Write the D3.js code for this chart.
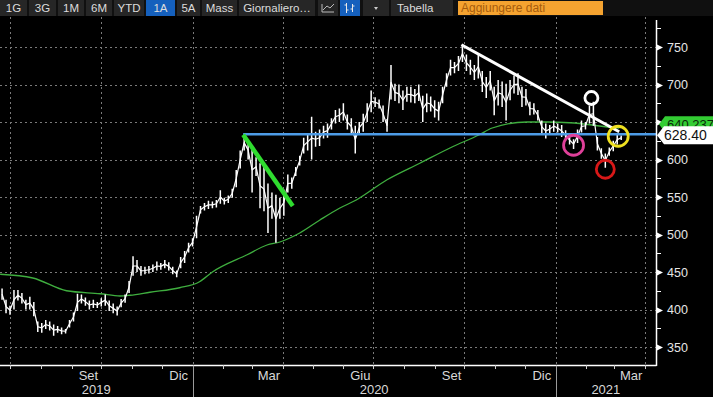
<!DOCTYPE html>
<html><head><meta charset="utf-8">
<script src="https://cdn.jsdelivr.net/npm/d3@7"></script>
<style>
html,body{margin:0;padding:0;background:#000;overflow:hidden}
svg{display:block}
text{font-family:"Liberation Sans",Arial,sans-serif}
</style></head><body>
<svg id="c" width="713" height="397"></svg>
<script>
// ---------- data ----------
const startDate = "2019-06-23";
const stepDays = 4;
const highs = [428,413,405,426,426,422,413,417,410,384,
382,386,384,380,378,376,374,386,396,421,
420,416,412,413,410,415,420,412,408,404,
414,420,438,471,466,458,457,458,460,464,
462,466,463,457,452,470,478,489,495,525,
538,542,545,544,546,559,549,552,561,586,
612,633,625,616,603,595,590,568,556,553,
549,560,580,576,590,605,629,635,657,637,
640,645,648,655,666,668,675,660,655,645,
650,661,675,692,683,680,672,654,726,701,
700,692,697,697,694,700,685,688,684,679,
677,697,715,733,730,738,753,740,733,726,
740,718,710,718,697,706,704,701,706,712,
715,697,694,677,675,666,652,648,646,652,
648,646,639,632,627,640,652,650,672,677,
630,615,608,616,625,633,632];
const lows = [413,395,393,400,412,408,400,400,391,370,
369,374,372,365,369,367,368,376,384,398,
408,405,400,402,402,404,405,398,395,392,
403,409,422,445,450,445,447,448,450,452,
453,455,452,447,443,455,462,476,484,495,
528,532,534,535,536,541,540,542,549,563,
588,612,600,556,578,535,531,502,521,489,
521,525,556,561,578,592,608,612,600,617,
618,628,629,640,648,650,652,640,633,608,
635,637,650,663,670,668,650,637,680,678,
675,666,677,676,675,678,650,663,664,656,
652,675,697,712,715,718,730,718,713,706,
708,690,682,692,659,672,670,652,679,688,
686,670,672,659,660,652,635,628,635,637,
636,630,626,620,614,622,636,640,648,645,
612,601,589,605,611,620,626];
const maDates = ["2019-06-21","2019-07-24","2019-08-27","2019-09-30","2019-10-20","2019-10-30","2019-11-19","2019-12-19","2020-01-08","2020-01-21","2020-02-25","2020-03-16","2020-03-29","2020-04-18","2020-05-08","2020-05-28","2020-06-14","2020-07-15","2020-08-17","2020-09-19","2020-10-16","2020-10-29","2020-12-03","2020-12-23","2021-01-15","2021-02-07","2021-02-24","2021-03-06"];
const maValues = [447,442,425,421,418,419,423,429,437,450,473,486,490,502,519,535,546,573,595,617,633,642,650,650,649,646,643,642];
const yTicks = [350,400,450,500,550,600,650,700,750];
const monthLabelDates = ["2019-09-18","2019-12-18","2020-03-18","2020-06-18","2020-09-18","2020-12-18","2021-03-18"];
const monthLabels = ["Set","Dic","Mar","Giu","Set","Dic","Mar"];
const yearLabels = ["2019","2020","2021"];
const lastPrice = 628.40;
const maLast = 640.237;
const resistanceStart = "2020-02-21";
const resistanceLevel = 633.6;
const greenTrendDates = ["2020-02-21","2020-04-11"];
const greenTrendValues = [633,538];
const whiteTrendDates = ["2020-09-28","2021-03-06"];
const whiteTrendValues = [753,637];
const circleDates = ["2021-02-06","2021-01-19","2021-02-20","2021-03-05"];
const circleValues = [682,619,587,631];
const circleColors = ["#ffffff","#e0409a","#d81818","#eee020"];
const circleRadii = [6.5,10,9,10];
const toolbarLabels = ["1G","3G","1M","6M","YTD","1A","5A","Mass","Giornaliero…"];
const addDataLabel = "Aggiungere dati";
const tableLabel = "Tabella";

// ---------- layout ----------
const W = 713, H = 397;
const plotL = 0, plotR = 656, plotT = 17, plotB = 365;
const parse = d3.utcParse("%Y-%m-%d");
const svg = d3.select("#c");

const x = d3.scaleUtc()
  .domain([Date.UTC(2019,6,1), Date.UTC(2021,3,1)])
  .range([10, 645]);
const y = d3.scaleLinear().domain([350,750]).range([347,47]);

svg.append("rect").attr("width",W).attr("height",H).attr("fill","#000");

// grid
const gridQ = d3.utcMonth.every(3).range(new Date(Date.UTC(2019,5,20)), new Date(Date.UTC(2021,3,12)));
svg.append("g").selectAll("line").data(gridQ).join("line")
  .attr("x1",d=>Math.round(x(d))+0.5).attr("x2",d=>Math.round(x(d))+0.5)
  .attr("y1",plotT).attr("y2",plotB)
  .attr("stroke","#7a7a7a").attr("stroke-width",1).attr("stroke-dasharray","2,3");
svg.append("g").selectAll("line").data(yTicks).join("line")
  .attr("x1",plotL).attr("x2",plotR)
  .attr("y1",d=>Math.round(y(d))+0.5).attr("y2",d=>Math.round(y(d))+0.5)
  .attr("stroke","#7a7a7a").attr("stroke-width",1).attr("stroke-dasharray","2,3");

// clip
svg.append("clipPath").attr("id","clip").append("rect")
  .attr("x",plotL).attr("y",plotT).attr("width",plotR-plotL).attr("height",plotB-plotT);
const g = svg.append("g").attr("clip-path","url(#clip)");

// moving average
const ma = maDates.map((d,i)=>({d:parse(d),v:maValues[i]}));
g.append("path").datum(ma)
  .attr("d", d3.line().x(p=>x(p.d)).y(p=>y(p.v)).curve(d3.curveMonotoneX))
  .attr("fill","none").attr("stroke","#3fae3f").attr("stroke-width",1.3);

// price bars: vertical high-low strokes joined through their mid points
const start = parse(startDate);
const n = Math.min(highs.length, lows.length);
const bars = d3.range(n).map(i=>({d:d3.utcDay.offset(start, i*stepDays), h:highs[i], l:lows[i]}));
g.append("path").datum(bars)
  .attr("d", d3.line().x(b=>x(b.d)).y(b=>y((b.h+b.l)/2)))
  .attr("fill","none").attr("stroke","#ffffff").attr("stroke-width",1.2).attr("stroke-linejoin","round");
g.append("g").selectAll("line").data(bars).join("line")
  .attr("x1",b=>x(b.d)).attr("x2",b=>x(b.d))
  .attr("y1",b=>y(b.h)).attr("y2",b=>y(b.l))
  .attr("stroke","#fff").attr("stroke-width",1.5);

// blue resistance line
g.append("line")
  .attr("x1",x(parse(resistanceStart))).attr("x2",plotR)
  .attr("y1",y(resistanceLevel)).attr("y2",y(resistanceLevel))
  .attr("stroke","#4d9be6").attr("stroke-width",2.5);

// green trend
g.append("line")
  .attr("x1",x(parse(greenTrendDates[0]))).attr("y1",y(greenTrendValues[0]))
  .attr("x2",x(parse(greenTrendDates[1]))).attr("y2",y(greenTrendValues[1]))
  .attr("stroke","#2fdc2f").attr("stroke-width",4.5);

// white trend
g.append("line")
  .attr("x1",x(parse(whiteTrendDates[0]))).attr("y1",y(whiteTrendValues[0]))
  .attr("x2",x(parse(whiteTrendDates[1]))).attr("y2",y(whiteTrendValues[1]))
  .attr("stroke","#ffffff").attr("stroke-width",3);

// circles
g.append("g").selectAll("circle").data(circleDates).join("circle")
  .attr("cx",(d)=>x(parse(d))).attr("cy",(d,i)=>y(circleValues[i]))
  .attr("r",(d,i)=>circleRadii[i]).attr("fill","none")
  .attr("stroke",(d,i)=>circleColors[i]).attr("stroke-width",2.8);

// bottom axis
svg.append("line").attr("x1",0).attr("x2",plotR+0.5).attr("y1",plotB+0.5).attr("y2",plotB+0.5)
  .attr("stroke","#fff").attr("stroke-width",1.5);
const months = d3.utcMonth.range(new Date(Date.UTC(2019,5,20)), new Date(Date.UTC(2021,3,12)));
svg.append("g").selectAll("line").data(months).join("line")
  .attr("x1",d=>Math.round(x(d))+0.5).attr("x2",d=>Math.round(x(d))+0.5)
  .attr("y1",plotB).attr("y2",plotB+4).attr("stroke","#cfcfcf").attr("stroke-width",1);
svg.append("g").selectAll("text").data(monthLabels).join("text")
  .attr("x",(t,i)=>x(parse(monthLabelDates[i]))).attr("y",plotB+15)
  .attr("text-anchor","middle").attr("font-size",13).attr("fill","#d8d8d8").text(t=>t);
// year separators + labels
const yearStarts = [Date.UTC(2020,0,1), Date.UTC(2021,0,1)].map(t=>new Date(t));
svg.append("g").selectAll("line").data(yearStarts).join("line")
  .attr("x1",d=>Math.round(x(d))+0.5).attr("x2",d=>Math.round(x(d))+0.5)
  .attr("y1",plotB+1).attr("y2",H).attr("stroke","#9a9a9a").attr("stroke-width",1);
const yearEdges = [plotL, x(yearStarts[0]), x(yearStarts[1]), plotR];
svg.append("g").selectAll("text").data(yearLabels).join("text")
  .attr("x",(t,i)=>(yearEdges[i]+yearEdges[i+1])/2).attr("y",plotB+29)
  .attr("text-anchor","middle").attr("font-size",13).attr("fill","#d8d8d8").text(t=>t);

// right axis
svg.append("line").attr("x1",plotR+0.5).attr("x2",plotR+0.5).attr("y1",plotT+3).attr("y2",plotB+1)
  .attr("stroke","#fff").attr("stroke-width",1.5);
const minor = d3.range(375,776,50);
svg.append("g").selectAll("line").data(minor).join("line")
  .attr("x1",plotR).attr("x2",plotR+5).attr("y1",d=>Math.round(y(d))+0.5).attr("y2",d=>Math.round(y(d))+0.5)
  .attr("stroke","#fff").attr("stroke-width",1);
svg.append("g").selectAll("path").data(yTicks).join("path")
  .attr("d",d=>{const yy=Math.round(y(d))+0.5;return `M${plotR},${yy-3.5}L${plotR+7},${yy}L${plotR},${yy+3.5}Z`;})
  .attr("fill","#fff");
svg.append("g").selectAll("text").data(yTicks).join("text")
  .attr("x",plotR+11).attr("y",d=>y(d)).attr("dy","0.36em")
  .attr("font-size",12.5).attr("fill","#e6e6e6").text(d=>d);

// price labels
const wy = y(lastPrice) - 3;
const gy = wy - 11;
svg.append("path")
  .attr("d",`M${plotR+3},${gy}L${plotR+9},${gy-8}L${W},${gy-8}L${W},${gy+8}L${plotR+9},${gy+8}Z`)
  .attr("fill","#33cc33");
svg.append("text").attr("x",plotR+11).attr("y",gy+5).attr("font-size",13).attr("fill","#0a2a0a")
  .text(maLast.toFixed(3));
svg.append("path")
  .attr("d",`M${plotR+1},${wy}L${plotR+8},${wy-9}L${W},${wy-9}L${W},${wy+9}L${plotR+8},${wy+9}Z`)
  .attr("fill","#ffffff");
svg.append("text").attr("x",plotR+8).attr("y",wy+5).attr("font-size",14).attr("fill","#111")
  .text(lastPrice.toFixed(2));

// ---------- toolbar ----------
const tb = svg.append("g");
tb.append("rect").attr("x",0).attr("y",0).attr("width",W).attr("height",16).attr("fill","#101010");
const btnX = [[0,27],[29,56],[58,84],[86,112],[114,144],[146,175],[177,200],[202,237],[239,315]];
toolbarLabels.forEach((t,i)=>{
  const [a,b] = btnX[i];
  const active = t==="1A";
  tb.append("rect").attr("x",a).attr("y",0).attr("width",b-a).attr("height",16)
    .attr("fill",active?"#1560bd":"#262626");
  tb.append("text").attr("x",(a+b)/2).attr("y",12).attr("text-anchor","middle")
    .attr("font-size",11.5).attr("fill","#dcdcdc").text(t);
});
// line icon button
tb.append("rect").attr("x",318).attr("y",0).attr("width",20).attr("height",16).attr("fill","#262626");
tb.append("path").attr("d","M322,12L322,4M322,12L334,12M323,10L327,6L330,8L334,4")
  .attr("fill","none").attr("stroke","#bbb").attr("stroke-width",1);
// bar icon button (active)
tb.append("rect").attr("x",340).attr("y",0).attr("width",20).attr("height",16).attr("fill","#1560bd");
tb.append("path").attr("d","M346.5,3L346.5,13M344.5,5L346.5,5M346.5,10L348.5,10M352.5,4L352.5,12M350.5,9L352.5,9M352.5,6L354.5,6")
  .attr("fill","none").attr("stroke","#e8e8e8").attr("stroke-width",1);
// dropdown
tb.append("rect").attr("x",363).attr("y",0).attr("width",26).attr("height",16).attr("fill","#262626");
tb.append("path").attr("d","M374,7L378,7L376,10Z").attr("fill","#ccc");
// Tabella
tb.append("rect").attr("x",391).attr("y",0).attr("width",62).attr("height",16).attr("fill","#262626");
tb.append("text").attr("x",397).attr("y",12).attr("font-size",11.5).attr("fill","#dcdcdc").text(tableLabel);
// add data box
tb.append("rect").attr("x",458).attr("y",1).attr("width",145).attr("height",14).attr("fill","#f5a330");
tb.append("text").attr("x",461).attr("y",12).attr("font-size",12).attr("fill","#a65c0c").text(addDataLabel);
</script>
</body></html>
